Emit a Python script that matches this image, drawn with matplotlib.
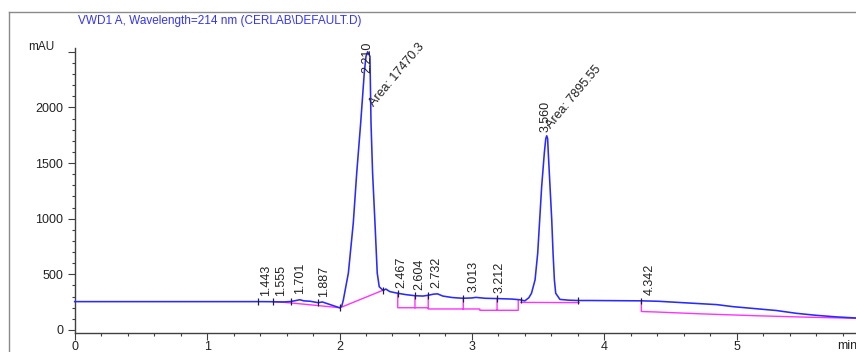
import numpy as np
import matplotlib
matplotlib.use("Agg")
import matplotlib.pyplot as plt
from matplotlib.lines import Line2D
from matplotlib.ticker import MultipleLocator

plt.rcParams['font.family'] = ['Liberation Sans', 'DejaVu Sans']

# ---------------- data ----------------
title = "VWD1 A, Wavelength=214 nm (CERLAB\\DEFAULT.D)"

# detector signal (time in min, signal in mAU)
trace_t = [0.00, 1.40, 1.50, 1.58, 1.63, 1.66, 1.70, 1.73, 1.78, 1.84, 1.87, 1.90,
           1.95, 2.00, 2.017, 2.029, 2.067, 2.104, 2.13, 2.16, 2.187, 2.20,
           2.213, 2.23, 2.238, 2.25, 2.268, 2.285, 2.30, 2.33, 2.35, 2.38,
           2.44, 2.50, 2.57, 2.63, 2.67, 2.71, 2.74, 2.78, 2.85, 2.93, 3.00,
           3.03, 3.10, 3.20, 3.30, 3.36, 3.40, 3.43, 3.45, 3.477, 3.497, 3.512,
           3.527, 3.547, 3.558, 3.565, 3.572, 3.577, 3.59, 3.603, 3.613, 3.623,
           3.633, 3.665, 3.73, 3.80, 3.90, 4.28, 4.41, 4.60, 4.85, 4.97, 5.30,
           5.45, 5.60, 5.75, 5.90, 6.00]
trace_y = [255, 255, 254, 252, 256, 262, 272, 262, 258, 245, 252, 240,
           220, 200, 215, 270, 512, 960, 1410, 1860, 2308, 2458,
           2500, 2458, 1860, 1410, 960, 512, 389, 355, 368, 345,
           330, 318, 308, 305, 312, 322, 325, 305, 292, 285, 288,
           293, 285, 282, 278, 272, 262, 290, 330, 450, 690, 990,
           1290, 1590, 1720, 1745, 1720, 1590, 1290, 990, 690, 450,
           330, 275, 268, 265, 265, 262, 258, 245, 228, 210, 175,
           150, 132, 118, 108, 102]

# integration baseline (NaN separates segments)
nan = np.nan
base_t = [1.50, 1.576, 1.74, 2.004, nan,
          2.004, 2.33, nan,
          2.44, 2.44, 2.67, nan,
          2.57, 2.57, nan,
          2.67, 2.67, 3.06, 3.06, 3.35, 3.35, nan,
          2.935, 2.935, nan,
          3.19, 3.19, nan,
          3.37, 3.81, nan,
          4.28, 4.28, 4.39, 4.71, 5.15, 5.54, 5.86, 6.00]
base_y = [252, 249, 231, 200, nan,
          200, 358, nan,
          328, 200, 200, nan,
          307, 200, nan,
          313, 189, 189, 177, 177, 272, nan,
          286, 189, nan,
          282, 177, nan,
          248, 246, nan,
          262, 166, 162, 146, 128, 115, 106, 102]

# integration event marks (min)
event_t = [1.386, 1.50, 1.631, 1.84, 2.004, 2.33, 2.44, 2.57, 2.67, 2.935,
           3.19, 3.37, 3.80, 4.28]

# retention time labels
rt_values = [1.443, 1.555, 1.701, 1.887, 2.210, 2.467, 2.604, 2.732, 3.013,
             3.212, 3.560, 4.342]
rt_labels = ["1.443", "1.555", "1.701", "1.887", "2.210", "2.467", "2.604",
             "2.732", "3.013", "3.212", "3.560", "4.342"]

# area annotations
area_labels = ["Area: 17470.3", "Area: 7895.55"]
area_pos_t = [2.26, 3.595]
area_pos_y = [2000, 1810]

x_major = [0, 1, 2, 3, 4, 5]
x_major_labels = ["0", "1", "2", "3", "4", "5"]
y_major = [0, 500, 1000, 1500, 2000, 2500]
y_major_labels = ["0", "500", "1000", "1500", "2000", ""]

# ---------------- drawing ----------------
W, H = 856, 352
fig = plt.figure(figsize=(W / 100, H / 100), dpi=100)
fig.patch.set_facecolor("white")

px_per_min = 132.4
px_per_mau = 0.1113
x0_px = 74.7
y0_px = 330.0
ax_bottom_px = 333.0
ax_top_px = 48.0
xmax = 6.0
ax_w_px = xmax * px_per_min
ax = fig.add_axes([x0_px / W, (H - ax_bottom_px) / H, ax_w_px / W,
                   (ax_bottom_px - ax_top_px) / H])
ax.set_xlim(0, xmax)
ax.set_ylim(-(ax_bottom_px - y0_px) / px_per_mau, (y0_px - ax_top_px) / px_per_mau)

blue = "#2a2aff"
magenta = "#ff33ff"
ax.plot(trace_t, trace_y, color=blue, lw=1.15, zorder=3, clip_on=False)
ax.plot(base_t, base_y, color=magenta, lw=1.0, zorder=2)

ev_y = np.interp(event_t, trace_t, trace_y)
ax.vlines(event_t, ev_y - 30, ev_y + 30, color="#222222", lw=0.9, zorder=4)

lab_off = 54
lab_cap = 2310
for rt, lab in zip(rt_values, rt_labels):
    yb = min(np.interp(rt, trace_t, trace_y) + lab_off, lab_cap)
    ax.text(rt, yb, lab, rotation=90, ha="center", va="bottom", fontsize=9,
            color="#222222", clip_on=False, zorder=5)

for lab, tx, ty in zip(area_labels, area_pos_t, area_pos_y):
    ax.text(tx, ty, lab, rotation=50, rotation_mode="anchor", ha="left",
            va="baseline", fontsize=9, color="#222222", clip_on=False, zorder=5)

# axes styling
for s in ["top", "right"]:
    ax.spines[s].set_visible(False)
for s in ["left", "bottom"]:
    ax.spines[s].set_color("#404040")
    ax.spines[s].set_linewidth(1.0)

ax.set_xticks(x_major)
ax.set_xticklabels(x_major_labels)
ax.xaxis.set_minor_locator(MultipleLocator(0.2))
ax.set_yticks(y_major)
ax.set_yticklabels(y_major_labels)
ax.yaxis.set_minor_locator(MultipleLocator(100))
ax.tick_params(axis="x", which="major", length=4.8, width=0.8, color="#404040",
               labelsize=9, pad=1, labelcolor="#222222")
ax.tick_params(axis="x", which="minor", length=2.4, width=0.8, color="#404040")
ax.tick_params(axis="y", which="major", length=4.8, width=0.8, color="#404040",
               labelsize=9, pad=3.6, labelcolor="#222222")
ax.tick_params(axis="y", which="minor", length=2.0, width=0.8, color="#404040")

# titles and unit labels
fig.text(220 / W, 1 - 21 / H, title, ha="center", va="center", fontsize=8.5,
         color="#3333ff")
fig.text(41.5 / W, 1 - 47 / H, "mAU", ha="center", va="center", fontsize=8.5,
         color="#222222")
fig.text(837 / W, 1 - 340 / H, "min", ha="left", va="top", fontsize=9,
         color="#222222")

# outer frame
frame_c = "#8a8a8a"
fig.add_artist(Line2D([9 / W, 9 / W], [0, 1 - 12 / H], color=frame_c, lw=1.0))
fig.add_artist(Line2D([9 / W, 1], [1 - 12 / H, 1 - 12 / H], color=frame_c, lw=1.0))

fig.savefig("out.png", dpi=100)
